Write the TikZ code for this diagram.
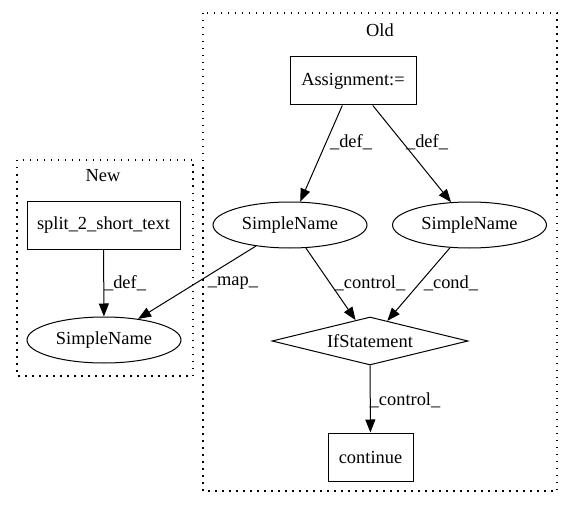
\documentclass[tikz,border=0pt]{standalone}
\usepackage{fontspec}
\setmainfont{Liberation Serif}
\usetikzlibrary{shapes.geometric,arrows.meta}
\begin{document}
\begin{tikzpicture}[x=1pt,y=-1pt, font=\fontsize{18.4}{22}\selectfont, line width=1pt,
 boxnode/.style={draw, rectangle, minimum height=48pt, inner sep=0pt},
 ellnode/.style={draw, ellipse, minimum width=154pt, minimum height=46pt, inner sep=0pt},
 dianode/.style={draw, diamond, minimum width=196pt, minimum height=48pt, inner sep=0pt, aspect=4},
 cluster/.style={draw, line width=1.3pt, dash pattern=on 1.5pt off 5.5pt},
 arr/.style={draw, -{Triangle[length=13pt,width=10pt]}},
 lbl/.style={inner sep=0pt}]
\useasboundingbox (0,0) rectangle (573,508);
% clusters
\draw[cluster] (203,13) rectangle (557,491);
\draw[cluster] (17,160) rectangle (193,376);
\node[lbl] (oldlbl) at (380,30) {Old};
\node[lbl] (newlbl) at (103,176) {New};
% nodes
\node[boxnode, minimum width=126pt] (asg) at (353,81) {Assignment:=};
\node[ellnode] (sn1) at (290,225) {SimpleName};
\node[ellnode] (sn2) at (469.5,225) {SimpleName};
\node[dianode] (ifs) at (370,341) {IfStatement};
\node[boxnode, minimum width=85pt] (cont) at (370.5,457) {continue};
\node[boxnode, minimum width=153pt] (split) at (103.5,225) {split\_2\_short\_text};
\node[ellnode] (sn3) at (104,340) {SimpleName};
% edges
\draw[arr] (asg) -- (sn1);
\draw[arr] (asg) -- (sn2);
\draw[arr] (sn1) -- (ifs);
\draw[arr] (sn2) -- (ifs);
\draw[arr] (ifs) -- (cont);
\draw[arr] (split) -- (sn3);
\draw[arr] (sn1) -- (sn3);
% edge labels
\node[lbl] (l1) at (351,142) {\_def\_};
\node[lbl] (l2) at (427,142) {\_def\_};
\node[lbl] (l3) at (370,283) {\_control\_};
\node[lbl] (l4) at (451,283) {\_cond\_};
\node[lbl] (l5) at (405,400) {\_control\_};
\node[lbl] (l6) at (125,283) {\_def\_};
\node[lbl] (l7) at (233,283) {\_map\_};
\end{tikzpicture}
\end{document}
